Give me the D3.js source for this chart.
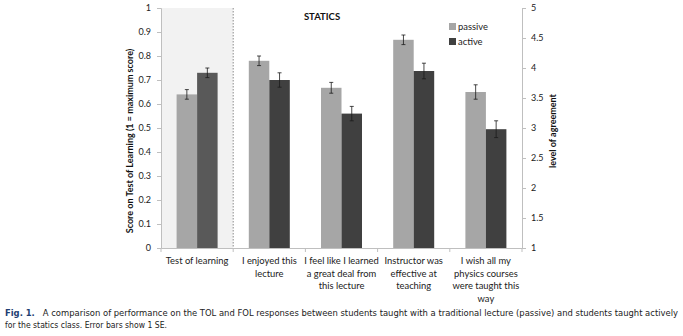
<!DOCTYPE html>
<html>
<head>
<meta charset="utf-8">
<script src="https://cdn.jsdelivr.net/npm/d3@7"></script>
<style>
  body { margin: 0; background: #fff; }
  svg { display: block; font-family: Lato, 'Liberation Sans', sans-serif; }
</style>
</head>
<body>
<svg width="683" height="336"></svg>
<script>
const categories = ['Test of learning', 'I enjoyed this lecture', 'I feel like I learned a great deal from this lecture', 'Instructor was effective at teaching', 'I wish all my physics courses were taught this way'];
const categoryLines = [
  ['Test of learning'],
  ['I enjoyed this', 'lecture'],
  ['I feel like I learned', 'a great deal from', 'this lecture'],
  ['Instructor was', 'effective at', 'teaching'],
  ['I wish all my', 'physics courses', 'were taught this', 'way']
];
// first category is on the left axis (score), the rest on the right axis (agreement)
const passive = [0.64, 4.12, 3.67, 4.47, 3.6];
const active = [0.73, 3.8, 3.24, 3.95, 2.98];
const passiveErr = [0.02, 0.08, 0.09, 0.08, 0.12];
const activeErr = [0.02, 0.12, 0.12, 0.13, 0.14];
const leftTicks = [0, 0.1, 0.2, 0.3, 0.4, 0.5, 0.6, 0.7, 0.8, 0.9, 1];
const rightTicks = [1, 1.5, 2, 2.5, 3, 3.5, 4, 4.5, 5];

const svg = d3.select('svg');
const pLeft = 161, pRight = 522, pTop = 8, pBottom = 248;

const x = d3.scaleBand().domain(categories).range([pLeft, pRight]);
const xs = d3.scaleBand().domain(['passive', 'active']).range([15.6, x.bandwidth() - 15.6]);
const yL = d3.scaleLinear().domain([0, 1]).range([pBottom, pTop]);
const yR = d3.scaleLinear().domain([1, 5]).range([pBottom, pTop]);
const yFor = (i) => (i === 0 ? yL : yR);

// shaded first category
svg.append('rect')
  .attr('x', pLeft).attr('y', pTop)
  .attr('width', x.bandwidth()).attr('height', pBottom - pTop)
  .attr('fill', '#f2f2f2');
svg.append('line')
  .attr('x1', x(categories[1])).attr('x2', x(categories[1]))
  .attr('y1', pTop).attr('y2', pBottom)
  .attr('stroke', '#8c8c8c').attr('stroke-dasharray', '1.5,1.5');

const rows = categories.map((c, i) => ({ c, i }));
const series = [
  { key: 'passive', vals: passive, errs: passiveErr, color: () => '#a6a6a6' },
  { key: 'active', vals: active, errs: activeErr, color: (i) => (i === 0 ? '#595959' : '#404040') }
];

series.forEach((s) => {
  svg.selectAll('rect.' + s.key).data(rows).enter().append('rect')
    .attr('class', s.key)
    .attr('x', (d) => x(d.c) + xs(s.key))
    .attr('width', xs.bandwidth())
    .attr('y', (d) => yFor(d.i)(s.vals[d.i]))
    .attr('height', (d) => pBottom - yFor(d.i)(s.vals[d.i]))
    .attr('fill', (d) => s.color(d.i));

  const eg = svg.selectAll('g.err-' + s.key).data(rows).enter().append('g')
    .attr('stroke', '#1a1a1a').attr('stroke-width', 0.8);
  const cx = (d) => x(d.c) + xs(s.key) + xs.bandwidth() / 2;
  eg.append('line')
    .attr('x1', cx).attr('x2', cx)
    .attr('y1', (d) => yFor(d.i)(s.vals[d.i] + s.errs[d.i]))
    .attr('y2', (d) => yFor(d.i)(s.vals[d.i] - s.errs[d.i]));
  [1, -1].forEach((sg) => {
    eg.append('line')
      .attr('x1', (d) => cx(d) - 2).attr('x2', (d) => cx(d) + 2)
      .attr('y1', (d) => yFor(d.i)(s.vals[d.i] + sg * s.errs[d.i]))
      .attr('y2', (d) => yFor(d.i)(s.vals[d.i] + sg * s.errs[d.i]));
  });
});

// axes
const axisColor = '#bfbfbf';
const gL = svg.append('g').attr('transform', `translate(${pLeft},0)`)
  .call(d3.axisLeft(yL).tickValues(leftTicks).tickSize(4).tickPadding(6).tickFormat(d3.format('')));
const gR = svg.append('g').attr('transform', `translate(${pRight},0)`)
  .call(d3.axisRight(yR).tickValues(rightTicks).tickSize(4).tickPadding(5).tickFormat(d3.format('')));
const gB = svg.append('g').attr('transform', `translate(0,${pBottom})`)
  .call(d3.axisBottom(x).tickValues([]).tickSizeOuter(0));
svg.selectAll('.domain').attr('stroke', axisColor);
[gL, gR].forEach((g) => {
  g.selectAll('.tick line').attr('stroke', axisColor);
  g.selectAll('.tick text').attr('font-size', 9).attr('fill', '#222').attr('font-family', 'Lato, sans-serif');
});
// category boundary ticks
const bounds = categories.map((c) => x(c)).concat([pRight]);
gB.selectAll('line.bt').data(bounds).enter().append('line')
  .attr('x1', (d) => d).attr('x2', (d) => d).attr('y1', 0).attr('y2', 4)
  .attr('stroke', axisColor);

// category labels
categoryLines.forEach((lines, i) => {
  const t = svg.append('text')
    .attr('x', x(categories[i]) + x.bandwidth() / 2)
    .attr('y', 264)
    .attr('text-anchor', 'middle').attr('font-size', 9.4).attr('fill', '#222');
  lines.forEach((ln, k) => {
    t.append('tspan').attr('x', x(categories[i]) + x.bandwidth() / 2)
      .attr('dy', k === 0 ? 0 : 12.7).text(ln);
  });
});

// title
svg.append('text').attr('x', 322).attr('y', 20).attr('text-anchor', 'middle')
  .attr('font-size', 9.5).attr('font-weight', 'bold').attr('fill', '#111').text('STATICS');

// legend
series.forEach((s, k) => {
  svg.append('rect').attr('x', 449).attr('y', 23 + k * 15).attr('width', 7).attr('height', 7)
    .attr('fill', k === 0 ? '#a6a6a6' : '#404040');
  svg.append('text').attr('x', 458).attr('y', 30 + k * 15).attr('font-size', 9.4)
    .attr('fill', '#222').text(s.key);
});

// axis titles
svg.append('text').attr('transform', 'translate(133,141) rotate(-90)')
  .attr('text-anchor', 'middle').attr('font-size', 9).attr('font-weight', 'bold').attr('fill', '#111')
  .text('Score on Test of Learning  (1 = maximum score)');
svg.append('text').attr('transform', 'translate(556,131) rotate(-90)')
  .attr('text-anchor', 'middle').attr('font-size', 9).attr('font-weight', 'bold').attr('fill', '#111')
  .text('level of agreement');

// caption
const cap = svg.append('g').attr('font-family', "'DejaVu Sans Condensed', 'Liberation Sans Narrow', sans-serif")
  .attr('font-size', 8.5).attr('fill', '#222');
const c1 = cap.append('text').attr('x', 5).attr('y', 316).attr('textLength', 673).attr('lengthAdjust', 'spacingAndGlyphs');
c1.append('tspan').attr('font-weight', 'bold').attr('fill', '#1f3f73').text('Fig. 1.');
c1.append('tspan').text('\u00a0\u00a0\u00a0A comparison of performance on the TOL and FOL responses between students taught with a traditional lecture (passive) and students taught actively');
cap.append('text').attr('x', 5).attr('y', 328).attr('textLength', 162).attr('lengthAdjust', 'spacingAndGlyphs')
  .text('for the statics class. Error bars show 1 SE.');
</script>
</body>
</html>
